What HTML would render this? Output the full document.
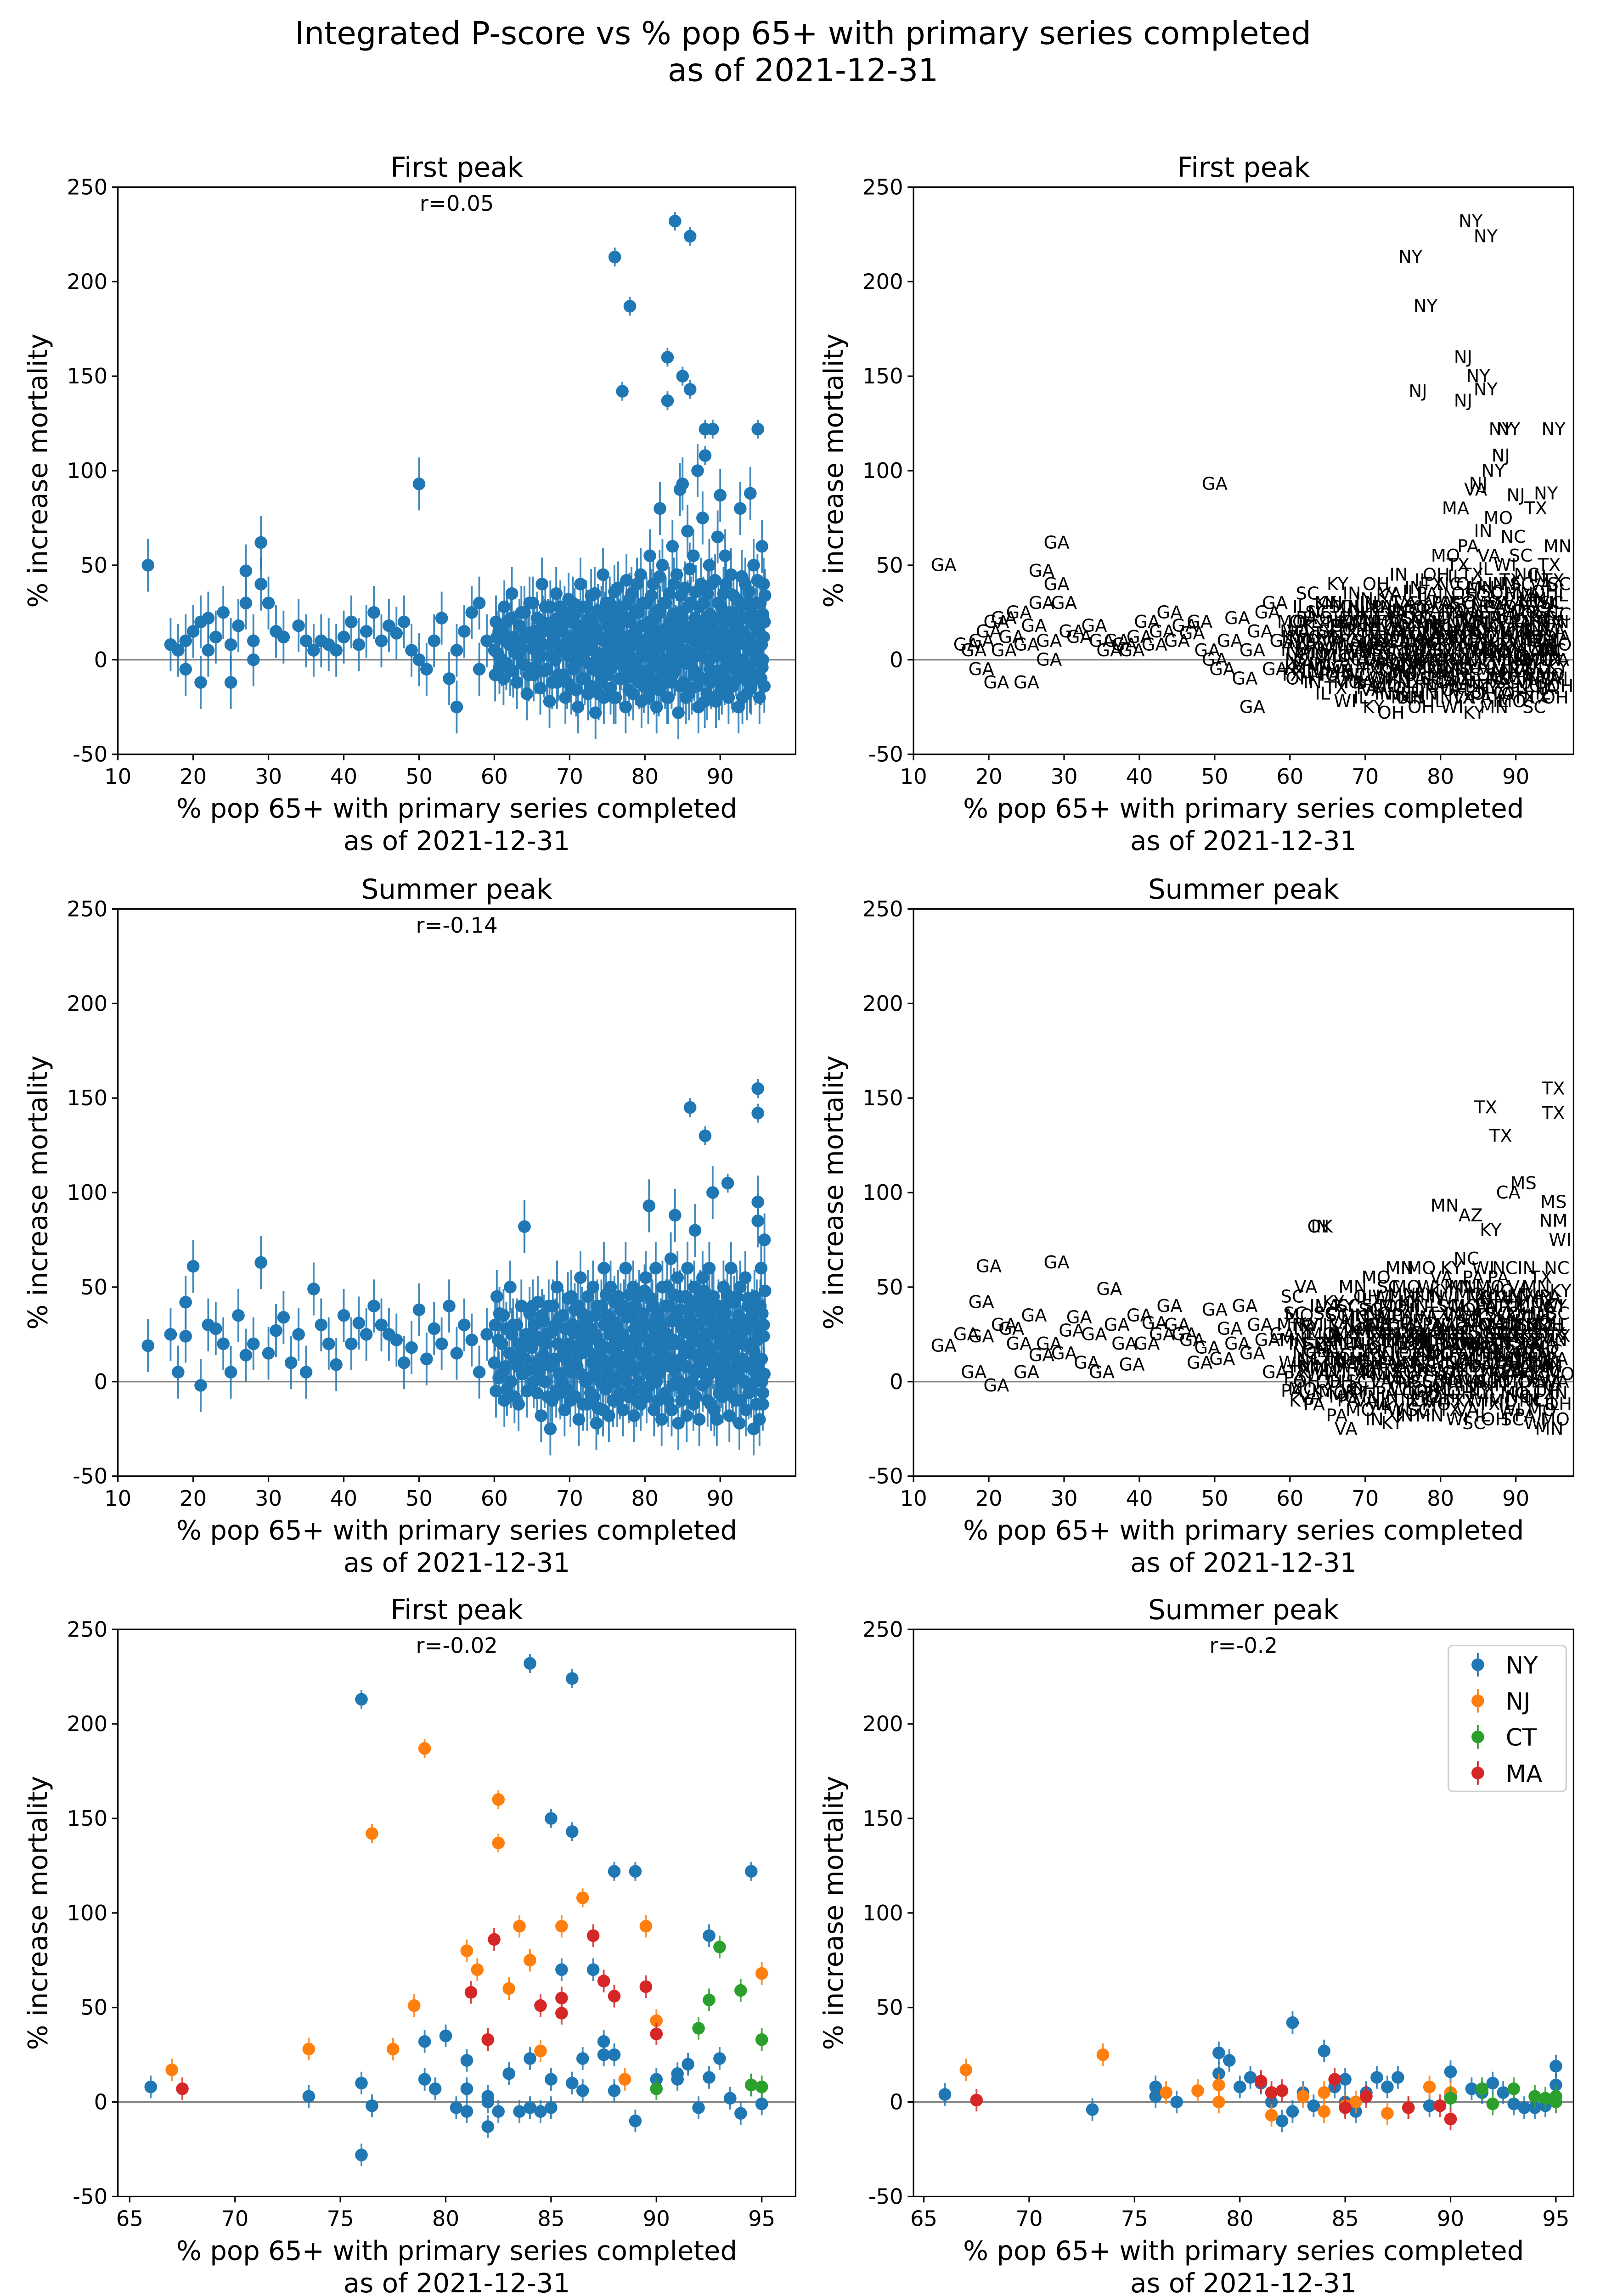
<!DOCTYPE html>
<html><head><meta charset="utf-8">
<style>html,body{margin:0;padding:0;background:#fff;overflow:hidden;width:3497px;height:5042px}svg{display:block}text{font-family:"DejaVu Sans","Liberation Sans",sans-serif}</style>
</head><body>
<svg id="fig" xmlns="http://www.w3.org/2000/svg" width="3497" height="5042" viewBox="0 0 1090 1571.6">
<rect width="1090" height="1571.6" fill="#fff"/>
<text x="545" y="30" font-size="21.5" text-anchor="middle">Integrated P-score vs % pop 65+ with primary series completed</text>
<text x="545" y="55" font-size="21.5" text-anchor="middle">as of 2021-12-31</text>
<g id="plots"></g>
</svg>
<script>
// ---------- data ----------
const fpSparseX=[14,17,18,19,19,20,21,21,22,22,23,24,25,25,26,27,27,28,28,29,29,30,31,32,34,35,36,37,38,39,40,41,42,43,44,45,46,47,48,49,50,50,51,52,53,54,55,55,56,57,58,58,59];
const fpSparseY=[50,8,5,10,-5,15,20,-12,5,22,12,25,8,-12,18,30,47,10,0,40,62,30,15,12,18,10,5,10,8,5,12,20,8,15,25,10,18,14,20,5,0,93,-5,10,22,-10,5,-25,15,25,-5,30,10];
const denseX=[60,61,62,63,64,65,66,67,68,69,70,71,72,73,74,75,76,77,78,79,80,81,82,83,84,85,86,87,88,89,90,91,92,93,94,95];
const fpDenseY=[[5,-8,20,12],[0,15,-10,28],[8,-5,22,35],[-12,10,3,18],[25,-3,12,-18],[6,30,-8,15],[12,-15,2,40,20],[-5,18,8,-22,28],[10,0,35,-12,22],[15,-8,5,25,-20],[2,20,-15,12,30,-5],[8,-25,18,0,40,10],[-10,14,28,5,-18,22],[20,-5,10,35,-28,0],[12,-12,25,3,45,-20],[-8,18,5,30,-15,10],[15,-20,0,22,38,8],[5,28,-10,12,-25,42],[20,-5,35,8,-18,14],[0,25,-12,10,45,-22],[18,-8,30,5,-20,12,55],[8,40,-15,22,0,-25,15],[25,-10,12,50,-5,30],[10,-20,35,0,20,-12,60],[-5,15,45,8,-28,25,90],[22,-12,5,38,-20,12,68],[0,30,-15,18,55,-8,10],[15,-25,28,5,40,-10,75],[8,22,-18,35,0,50,-5],[20,-10,12,42,-22,5,65],[5,28,-15,15,35,-5,55],[12,-20,25,0,45,-12,20],[18,-5,32,8,-25,15,80],[0,22,-10,40,10,-18,30],[10,-15,25,5,50,-8,18],[5,15,-20,30,-10,60,0,40,20]];
const fpDenseY2=[[3,15,-4],[10,-2,20],[-6,12,4],[6,25,-2],[14,-8,30],[-4,10,22,2],[8,-6,18,28],[2,14,-12,20],[-8,6,16,28],[4,20,-12,10,32],[12,-4,24,6,-16],[0,16,-10,28,6],[10,-2,20,-14,34],[4,16,-6,26,-18],[-2,10,22,-8,30],[14,-4,26,0,-20,36],[4,18,-10,28,-2,12],[-4,10,22,2,-16,32],[12,0,26,-10,16,40],[6,-6,18,30,-14,4],[2,20,-10,14,34,-4],[12,-2,26,6,-16,44],[0,16,-12,30,8,-20],[14,4,-8,24,40,-4],[6,20,-14,34,0,12],[-2,16,28,4,-18,48],[10,-6,22,36,2,-14],[4,18,-10,30,12,-22],[16,0,24,-12,40,8],[2,14,-6,30,-18,22],[10,-10,20,40,0,-4],[6,24,-14,34,2,14],[0,16,-8,28,44,-20],[12,-4,22,6,36,-14],[4,20,-10,30,0,42],[8,-4,24,12,-14,34]];
const fpOutX=[76,78,77,83,83,84,85,86,86,88,89,95,88,85,90,94,87,82];
const fpOutY=[213,187,142,160,137,232,150,224,143,122,122,122,108,93,87,88,100,80];
const fpOutLab=["NY","NY","NJ","NJ","NJ","NY","NY","NY","NY","NY","NY","NY","NJ","NJ","NJ","NY","NY","MA"];
const spSparseX=[14,17,18,19,19,20,21,22,23,24,25,26,27,28,29,30,31,32,33,34,35,36,37,38,39,40,41,42,43,44,45,46,47,48,49,50,51,52,53,54,55,56,57,58,59];
const spSparseY=[19,25,5,42,24,61,-2,30,28,20,5,35,14,20,63,15,27,34,10,25,5,49,30,20,9,35,20,31,25,40,30,25,22,10,18,38,12,28,20,40,15,30,22,5,25];
const spDenseY=[[10,30,-5,45],[20,5,35,-10],[15,50,0,25],[30,8,-12,20],[82,12,25,-5],[18,40,0,30],[5,22,-18,35,12],[25,-8,40,10,-25],[12,30,-5,50,20],[0,35,15,-15,28],[20,-10,45,5,30,10],[8,40,-20,25,55,15],[30,0,18,-12,45,22],[10,50,-8,25,35,-22],[20,0,40,12,-15,60],[35,5,-18,25,50,10],[0,30,15,-10,45,22],[25,-15,40,8,60,12],[10,35,-5,22,50,-18],[30,0,45,15,-12,25],[15,55,-8,30,5,93,20],[40,10,-15,25,60,0,35],[5,30,-20,50,15,22],[25,-10,40,8,65,-15,20],[10,35,0,55,-22,20,45],[30,-5,18,45,8,-18,60],[15,40,0,25,-12,50,80],[5,30,-20,45,10,20,55],[25,0,40,-10,15,60,35],[10,45,-15,25,5,-20,30],[20,0,35,-8,50,12,40],[5,30,-18,20,60,0,15],[25,-10,45,8,35,-22,50],[10,30,0,55,-15,20,40],[20,-5,35,10,-25,45,5],[8,25,-20,40,60,0,-12,30,75]];
const spDenseY2=[[22,2,36],[8,28,-4],[30,12,-8],[16,40,4],[6,20,36],[24,10,-6,42],[14,32,0,20],[8,26,-10,40],[20,4,34,-6],[12,28,-4,44,6],[26,8,38,-8,16],[4,22,36,-12,30],[16,34,2,-6,28],[24,6,40,-14,14],[8,30,18,-4,46],[18,2,32,-10,24,42],[10,26,-6,38,4,20],[20,0,34,14,-8,46],[6,28,16,40,-10,22],[24,8,-4,36,14,48],[10,30,-2,22,44,2],[18,4,36,-10,28,12],[26,10,-6,40,20,50],[12,32,-2,22,46,6],[20,0,38,12,-10,28],[8,26,44,-4,18,34],[22,6,30,-8,40,14],[12,36,-2,22,48,4],[18,4,32,-12,26,44],[6,28,12,40,-6,20],[24,8,36,-4,16,46],[14,30,-8,22,42,4],[20,2,34,-10,26,12],[8,28,44,-6,18,32],[16,0,30,-12,40,22],[12,36,-6,24,4,48]];
const spOutX=[86,88,89,95,95,95,64,84,91,95];
const spOutY=[145,130,100,155,142,95,82,88,105,85];
const spOutLab=["TX","TX","CA","TX","TX","MS","OK","AZ","MS","NM"];
const denseLab=["TX","MO","KY","NC","VA","OH","IL","WI","MN","PA","SC","IN"];
// NY/NJ/CT/MA, first peak
const nyFX=[66,73.5,76,76,76.5,76,79,79,79.5,80,80.5,81,81,81,82,82,82,82.5,83,83.5,84,84,84,84.5,85,85,85,85.5,86,86,86,86.5,86.5,87,87.5,87.5,88,88,88,89,89,90,91,91,91.5,92,92.5,92.5,93,93.5,94,94.5,94.5,95];
const nyFY=[8,3,10,-28,-2,213,32,12,7,35,-3,7,22,-5,0,3,-13,-5,15,-5,232,23,-3,-5,-3,12,150,70,224,143,10,23,6,70,25,32,122,25,6,122,-10,12,12,15,20,-3,13,88,23,2,-6,122,9,-1];
const njFX=[67,73.5,76.5,77.5,78.5,79,81,81.5,82,82.5,82.5,83,83.5,84,84.5,85.5,86.5,88.5,89.5,90,95];
const njFY=[17,28,142,28,51,187,80,70,33,137,160,60,93,75,27,93,108,12,93,43,68];
const ctFX=[90,92,92.5,93,94,94.5,95,95];
const ctFY=[7,39,54,82,59,9,33,8];
const maFX=[67.5,81.2,82,82.3,84.5,85.5,85.5,87,87.5,88,89.5,90];
const maFY=[7,58,33,86,51,47,55,88,64,56,61,36];
// summer peak
const nySX=[66,73,76,76,77,79,79.5,79,80,80.5,81,81.5,82,82.5,82.5,83,83.5,84,84.5,85,85,85.5,86,86.5,87,87.5,88,89,90,90,91,91.5,92,92.5,93,93.5,94,94.5,95,95];
const nySY=[4,-4,8,3,0,26,22,15,8,13,10,0,-10,42,-5,5,-2,27,8,12,0,-5,5,13,8,13,-3,-2,16,3,7,5,10,5,-1,-3,-3,-2,19,9];
const njSX=[67,73.5,76.5,78,79,79,81.5,83,84,85,85.5,87,88,89,90,84];
const njSY=[17,25,5,6,0,9,-7,3,-5,-2,0,-6,-3,8,5,5];
const ctSX=[90,91.5,92,93,94,94.5,95,95];
const ctSY=[2,7,-1,7,3,2,3,0];
const maSX=[67.5,81,81.5,82,84.5,85,86,88,90,89.5];
const maSY=[1,11,5,6,12,-3,3,-3,-9,-2];
const yTicks=[-50,0,50,100,150,200,250];
const xTicksA=[10,20,30,40,50,60,70,80,90];
const xTicksB=[65,70,75,80,85,90,95];
const rVals=["r=0.05","r=-0.14","r=-0.02","r=-0.2"];
const COL={NY:"#1f77b4",NJ:"#ff7f0e",CT:"#2ca02c",MA:"#d62728"};

// ---------- helpers ----------
const NS="http://www.w3.org/2000/svg";
const root=document.getElementById('plots');
function mk(tag,attrs,parent){const e=document.createElementNS(NS,tag);for(const k in attrs)e.setAttribute(k,attrs[k]);(parent||root).appendChild(e);return e;}
function expand(sx,sy,dy,dy2){const X=sx.slice(),Y=sy.slice();
  dy.forEach((row,i)=>row.forEach((v,j)=>{X.push(denseX[i]+j*0.11);Y.push(v);}));
  dy2.forEach((row,i)=>row.forEach((v,j)=>{X.push(denseX[i]+0.5+j*0.09);Y.push(v);}));
  return [X,Y];}
function axes(name,L,T,R,B,xmin,xmax,xt,title,rtxt){
  const g=mk('g',{});
  
  
  const sx=v=>L+(v-xmin)/(xmax-xmin)*(R-L);
  const sy=v=>B-(v+50)/300*(B-T);
  const clip=mk('clipPath',{id:'c'+name},g);mk('rect',{x:L,y:T,width:R-L,height:B-T},clip);
  const zl=mk('line',{x1:L,x2:R,y1:sy(0),y2:sy(0),stroke:'#808080','stroke-width':1},g);
  
  
  const marks=mk('g',{'clip-path':'url(#c'+name+')'},g);
  const fr=mk('rect',{x:L,y:T,width:R-L,height:B-T,fill:'none',stroke:'#000','stroke-width':1},g);
  
  
  yTicks.forEach(v=>{const y=sy(v);mk('line',{x1:L-4,x2:L,y1:y,y2:y,stroke:'#000'},g);
    const t=mk('text',{x:L-7,y:y+5,'font-size':14.5,'text-anchor':'end'},g);t.textContent=v;
    
    });
  xt.forEach(v=>{const x=sx(v);mk('line',{x1:x,x2:x,y1:B,y2:B+4,stroke:'#000'},g);
    const t=mk('text',{x:x,y:B+20,'font-size':14.5,'text-anchor':'middle'},g);t.textContent=v;
    
    });
  const tt=mk('text',{x:(L+R)/2,y:T-7,'font-size':18.5,'text-anchor':'middle'},g);tt.textContent=title;
  
  
  if(rtxt){const r=mk('text',{x:(L+R)/2,y:T+16,'font-size':14.5,'text-anchor':'middle'},g);r.textContent=rtxt;
    
    }
  const xl=mk('text',{x:(L+R)/2,y:B+43,'font-size':18,'text-anchor':'middle'},g);xl.textContent='% pop 65+ with primary series completed';
  
  
  const xl2=mk('text',{x:(L+R)/2,y:B+65,'font-size':18,'text-anchor':'middle'},g);xl2.textContent='as of 2021-12-31';
  
  
  const yl=mk('text',{x:0,y:0,'font-size':18,'text-anchor':'middle',transform:`translate(${L-48},${(T+B)/2}) rotate(-90)`},g);yl.textContent='% increase mortality';
  
  
  return {sx,sy,marks};
}
function points(ax,X,Y,col,err){
  X.forEach((x,i)=>{const cx=ax.sx(x),cy=ax.sy(Y[i]),e=Math.abs(Y[i])>100?5:err;
    const l=mk('line',{x1:cx,x2:cx,y1:ax.sy(Y[i]-e),y2:ax.sy(Y[i]+e),stroke:col,'stroke-width':1.2,'stroke-opacity':0.85},ax.marks);
    
    
    const c=mk('circle',{cx:cx,cy:cy,r:4.3,fill:col},ax.marks);
    
    });
}
function labels(ax,X,Y,labs){
  X.forEach((x,i)=>{const t=mk('text',{x:ax.sx(x),y:ax.sy(Y[i])+4,'font-size':12,'text-anchor':'middle'},ax.marks);t.textContent=labs[i];
    
    });
}
// ---------- panels ----------
const [fX,fY]=expand(fpSparseX.concat(fpOutX),fpSparseY.concat(fpOutY),fpDenseY,fpDenseY2);
const [sX,sY]=expand(spSparseX.concat(spOutX),spSparseY.concat(spOutY),spDenseY,spDenseY2);
const labF=fX.map((x,i)=>i<fpSparseX.length?"GA":(i<fpSparseX.length+fpOutX.length?fpOutLab[i-fpSparseX.length]:denseLab[i%denseLab.length]));
const labS=sX.map((x,i)=>i<spSparseX.length?"GA":(i<spSparseX.length+spOutX.length?spOutLab[i-spSparseX.length]:denseLab[i%denseLab.length]));
const xmaxA=10+(540-80)/51.1*10;
const a1=axes('first-peak-scatter',80,127,540,512,10,xmaxA,xTicksA,'First peak',rVals[0]);points(a1,fX,fY,COL.NY,14);
const a2=axes('first-peak-labels',620,127,1068,512,10,10+(1068-620)/51.1*10,xTicksA,'First peak',null);labels(a2,fX,fY,labF);
const a3=axes('summer-peak-scatter',80,617,540,1002,10,xmaxA,xTicksA,'Summer peak',rVals[1]);points(a3,sX,sY,COL.NY,14);
const a4=axes('summer-peak-labels',620,617,1068,1002,10,10+(1068-620)/51.1*10,xTicksA,'Summer peak',null);labels(a4,sX,sY,labS);
const xminB=65-(88-80)/71.5*5, xmaxB=95+(540-517)/71.5*5;
const a5=axes('first-peak-northeast',80,1106,540,1491,xminB,xmaxB,xTicksB,'First peak',rVals[2]);
points(a5,nyFX,nyFY,COL.NY,6);points(a5,njFX,njFY,COL.NJ,6);points(a5,ctFX,ctFY,COL.CT,6);points(a5,maFX,maFY,COL.MA,6);
const a6=axes('summer-peak-northeast',620,1106,1068,1491,65-(627-620)/71.5*5,95+(1068-1056)/71.5*5,xTicksB,'Summer peak',rVals[3]);
points(a6,nySX,nySY,COL.NY,6);points(a6,njSX,njSY,COL.NJ,6);points(a6,ctSX,ctSY,COL.CT,6);points(a6,maSX,maSY,COL.MA,6);
// legend
const lg=mk('g',{});


mk('rect',{x:983,y:1117,width:80,height:99,rx:3,fill:'#fff',stroke:'#d0d0d0','stroke-width':1},lg);
["NY","NJ","CT","MA"].forEach((k,i)=>{const y=1130+i*24.5;
  const e=mk('g',{},lg);
  
  
  mk('line',{x1:1003,x2:1003,y1:y-8,y2:y+8,stroke:COL[k],'stroke-width':1.2},e);
  mk('circle',{cx:1003,cy:y,r:4.3,fill:COL[k]},e);
  const t=mk('text',{x:1022,y:y+6,'font-size':16},e);t.textContent=k;});
</script>
</body></html>
